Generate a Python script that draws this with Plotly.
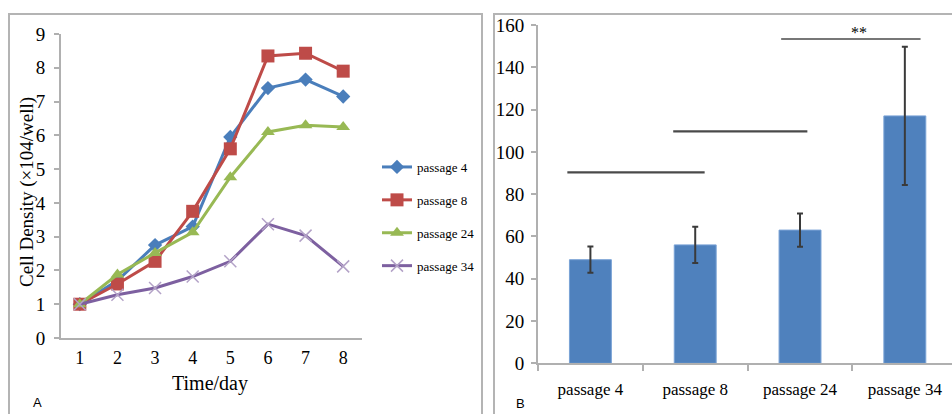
import plotly.graph_objects as go

# ---- Panel A data ----
days = ["1", "2", "3", "4", "5", "6", "7", "8"]
p4 = [1.0, 1.7, 2.75, 3.3, 5.95, 7.4, 7.65, 7.15]
p8 = [1.0, 1.6, 2.27, 3.75, 5.6, 8.35, 8.43, 7.9]
p24 = [1.0, 1.88, 2.52, 3.13, 4.76, 6.1, 6.3, 6.25]
p34 = [1.0, 1.28, 1.48, 1.82, 2.27, 3.37, 3.03, 2.12]
series_names = ["passage 4", "passage 8", "passage 24", "passage 34"]

# ---- Panel B data ----
bar_cats = ["passage 4", "passage 8", "passage 24", "passage 34"]
bar_vals = [49, 56, 63, 117]
bar_err = [6.2, 8.6, 7.9, 32.7]
# significance brackets: (x start, x end, y level) in category units
sig_x0 = [-0.22, 0.79, 1.82]
sig_x1 = [1.09, 2.07, 3.15]
sig_y = [90.3, 109.7, 153.4]
sig_w = [2.2, 2.2, 1.4]
sig_label = "**"
sig_label_x = 2.56
sig_label_y = 156.5

SERIF = "Liberation Serif, Times New Roman, serif"
SANS = "Liberation Sans, Arial, sans-serif"

fig = go.Figure()

colors = ["#4a7ebb", "#be4b48", "#98b954", "#7d60a0"]
symbols = ["diamond", "square", "triangle-up", "x-thin-open"]
sizes = [11, 13, 12, 12]
for name, vals, c, s, sz in zip(series_names, [p4, p8, p24, p34], colors, symbols, sizes):
    marker = dict(symbol=s, size=sz, color=c)
    if s == "x-thin-open":
        marker = dict(symbol=s, size=sz, color="#b3a2c7", line=dict(width=1.5, color="#b3a2c7"))
    fig.add_trace(go.Scatter(
        x=days, y=vals, name=name, mode="lines+markers",
        line=dict(color=c, width=3), marker=marker,
        xaxis="x", yaxis="y", legendgroup=name,
    ))

fig.add_trace(go.Bar(
    x=bar_cats, y=bar_vals, width=0.4,
    marker=dict(color="#4f81bd", line=dict(color="#7aa3d6", width=1)),
    error_y=dict(type="data", array=bar_err, visible=True, color="#3a3a3a", thickness=2, width=3),
    xaxis="x2", yaxis="y2", showlegend=False,
))

W, H = 952, 414
def px(x):
    return x / W
def py(y):
    return (H - y) / H

shapes = []
# panel borders
shapes.append(dict(type="rect", xref="paper", yref="paper", x0=px(9), x1=px(482), y0=py(14), y1=py(420),
                   line=dict(color="#b4b4b4", width=2), fillcolor="rgba(0,0,0,0)", layer="below"))
shapes.append(dict(type="rect", xref="paper", yref="paper", x0=px(494), x1=px(960), y0=py(14), y1=py(420),
                   line=dict(color="#b4b4b4", width=2), fillcolor="rgba(0,0,0,0)", layer="below"))
for x0, x1, y, w in zip(sig_x0, sig_x1, sig_y, sig_w):
    shapes.append(dict(type="line", xref="x2", yref="y2", x0=x0, x1=x1, y0=y, y1=y,
                       line=dict(color="#4a4a4a", width=w)))

annotations = [
    dict(text="Cell Density (×104/well)", xref="paper", yref="paper", x=px(27), y=py(192),
         xanchor="center", yanchor="middle",
         textangle=-90, showarrow=False, font=dict(family=SERIF, size=19, color="#000")),
    dict(text="Time/day", xref="paper", yref="paper", x=px(210), y=py(383),
         xanchor="center", yanchor="middle",
         showarrow=False, font=dict(family=SERIF, size=20, color="#000")),
    dict(text="A", xref="paper", yref="paper", x=px(37), y=py(402),
         xanchor="center", yanchor="middle",
         showarrow=False, font=dict(family=SANS, size=13, color="#000")),
    dict(text="B", xref="paper", yref="paper", x=px(520), y=py(403),
         xanchor="center", yanchor="middle",
         showarrow=False, font=dict(family=SANS, size=13, color="#000")),
    dict(text=sig_label, xref="x2", yref="y2", x=sig_label_x, y=sig_label_y,
         xanchor="center", yanchor="middle",
         showarrow=False, font=dict(family=SERIF, size=16, color="#000")),
]

ytick_font = dict(family=SERIF, size=19, color="#000")

fig.update_layout(
    width=W, height=H,
    margin=dict(l=0, r=0, t=0, b=0, autoexpand=False),
    paper_bgcolor="white", plot_bgcolor="white",
    font=dict(family=SERIF, color="#000"),
    showlegend=True,
    hovermode=False,
    legend=dict(x=px(377), y=py(152), xanchor="left", yanchor="top",
                font=dict(family=SERIF, size=13, color="#000"),
                tracegroupgap=13, itemwidth=30, bgcolor="rgba(0,0,0,0)"),
    xaxis=dict(domain=[px(61), px(362)], type="category", range=[-0.5, 7.5], automargin=False,
               ticks="", showgrid=False, zeroline=False, showline=True,
               linecolor="#b0b0b0", linewidth=2, tickfont=dict(family=SERIF, size=18, color="#000"),
               ticklabelstandoff=2),
    yaxis=dict(domain=[py(338), py(34)], range=[0, 9], dtick=1, ticks="outside", automargin=False,
               ticklen=5, tickcolor="#b0b0b0", tickwidth=1.5, showgrid=False, zeroline=False,
               showline=True, linecolor="#b0b0b0", linewidth=2, tickfont=ytick_font,
               ticklabelstandoff=5),
    xaxis2=dict(domain=[px(538), 1.0], type="category", range=[-0.5, 3.45], automargin=False,
                ticks="outside", tickson="boundaries", ticklen=6, tickcolor="#b0b0b0", tickwidth=2,
                showline=True, linecolor="#b0b0b0", linewidth=2, showgrid=False, zeroline=False,
                tickfont=dict(family=SERIF, size=17, color="#000"), anchor="y2",
                ticklabelstandoff=9),
    yaxis2=dict(domain=[py(363.3), py(25)], range=[0, 160], dtick=20, ticks="outside", automargin=False,
                ticklen=5, tickcolor="#b0b0b0", tickwidth=1.5, anchor="x2", showgrid=False,
                zeroline=False, showline=True, linecolor="#b0b0b0", linewidth=2,
                tickfont=ytick_font, ticklabelstandoff=3),
    shapes=shapes,
    annotations=annotations,
)

fig.write_html("out.html", config={"displayModeBar": False},
               post_script="document.body.style.margin='0';document.body.style.overflow='hidden';")
